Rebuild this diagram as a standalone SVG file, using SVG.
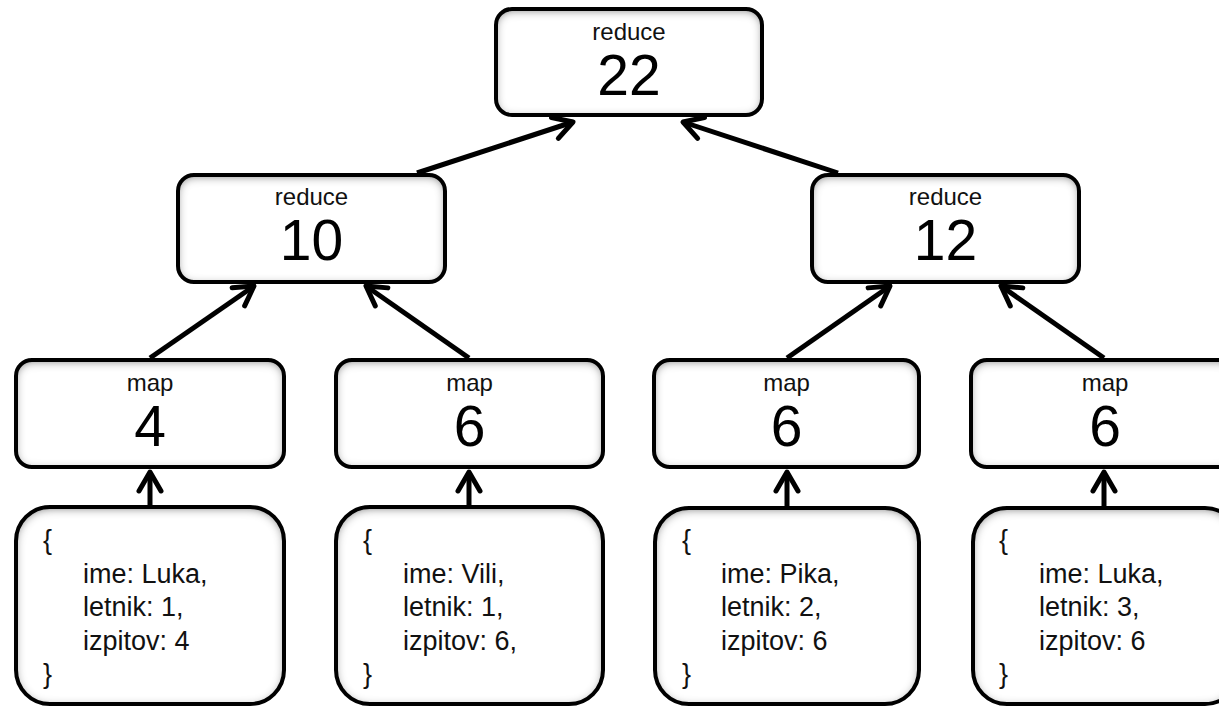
<svg xmlns="http://www.w3.org/2000/svg" width="1219" height="706" viewBox="0 0 1219 706">
<style>
.box{fill:#fff;filter:url(#inset)}
.edge{fill:none;stroke:#000;stroke-width:4}
.lbl{font-family:"Liberation Sans",Arial,sans-serif;font-size:24px;fill:#111;text-anchor:middle}
.num{font-family:"Liberation Sans",Arial,sans-serif;font-size:57px;fill:#000;text-anchor:middle}
.data{font-family:"Liberation Sans",Arial,sans-serif;font-size:27px;fill:#111}
.conn{stroke:#000;stroke-width:5;fill:none;marker-end:url(#ah)}
</style>
<defs>
<filter id="inset" x="-10%" y="-10%" width="120%" height="120%">
<feFlood flood-color="#555" result="c"/>
<feComposite in="c" in2="SourceAlpha" operator="out" result="o"/>
<feGaussianBlur in="o" stdDeviation="5" result="b"/>
<feOffset in="b" dx="0" dy="2" result="bo"/>
<feComposite in="bo" in2="SourceAlpha" operator="in" result="s"/>
<feMerge><feMergeNode in="SourceGraphic"/><feMergeNode in="s"/></feMerge>
</filter>
<marker id="ah" markerUnits="userSpaceOnUse" markerWidth="40" markerHeight="40" viewBox="-25 -20 40 40" refX="0" refY="0" orient="auto" overflow="visible">
<path d="M-19,-11 L0,0 L-19,11" fill="none" stroke="#000" stroke-width="5" stroke-linejoin="round" stroke-linecap="round"/>
</marker>
</defs>
<rect width="1219" height="706" fill="#fff"/>
<g id="connectors">
<line class="conn" x1="417" y1="173" x2="573" y2="122"/>
<line class="conn" x1="838" y1="173" x2="683" y2="122"/>
<line class="conn" x1="150" y1="358" x2="254" y2="286"/>
<line class="conn" x1="469" y1="358" x2="366" y2="286"/>
<line class="conn" x1="787" y1="358" x2="890" y2="286"/>
<line class="conn" x1="1104" y1="358" x2="1001" y2="286"/>
<line class="conn" x1="150" y1="506" x2="150" y2="472"/>
<line class="conn" x1="469" y1="506" x2="469" y2="472"/>
<line class="conn" x1="787" y1="507" x2="787" y2="472"/>
<line class="conn" x1="1104" y1="507" x2="1104" y2="472"/>
</g>
<g id="reduce-top">
<rect class="box" x="496" y="9" width="266" height="106" rx="16"/>
<rect class="edge" x="496" y="9" width="266" height="106" rx="16"/>
<text class="lbl" x="629" y="40">reduce</text>
<text class="num" x="629" y="95">22</text>
</g>
<g id="reduce-left">
<rect class="box" x="178" y="175" width="267" height="107" rx="16"/>
<rect class="edge" x="178" y="175" width="267" height="107" rx="16"/>
<text class="lbl" x="311.5" y="205">reduce</text>
<text class="num" x="311.5" y="260">10</text>
</g>
<g id="reduce-right">
<rect class="box" x="812" y="175" width="267" height="107" rx="16"/>
<rect class="edge" x="812" y="175" width="267" height="107" rx="16"/>
<text class="lbl" x="945.5" y="205">reduce</text>
<text class="num" x="945.5" y="260">12</text>
</g>
<g id="map1">
<rect class="box" x="16" y="360" width="268" height="107" rx="16"/>
<rect class="edge" x="16" y="360" width="268" height="107" rx="16"/>
<text class="lbl" x="150" y="391">map</text>
<text class="num" x="150" y="446">4</text>
</g>
<g id="map2">
<rect class="box" x="336" y="360" width="267" height="107" rx="16"/>
<rect class="edge" x="336" y="360" width="267" height="107" rx="16"/>
<text class="lbl" x="469.5" y="391">map</text>
<text class="num" x="469.5" y="446">6</text>
</g>
<g id="map3">
<rect class="box" x="654" y="360" width="265" height="107" rx="16"/>
<rect class="edge" x="654" y="360" width="265" height="107" rx="16"/>
<text class="lbl" x="786.5" y="391">map</text>
<text class="num" x="786.5" y="446">6</text>
</g>
<g id="map4">
<rect class="box" x="971" y="360" width="268" height="107" rx="16"/>
<rect class="edge" x="971" y="360" width="268" height="107" rx="16"/>
<text class="lbl" x="1105" y="391">map</text>
<text class="num" x="1105" y="446">6</text>
</g>
<g id="data1">
<rect class="box" x="16" y="507" width="268" height="197" rx="34"/>
<rect class="edge" x="16" y="507" width="268" height="197" rx="34"/>
<text class="data" x="43" y="549">{</text>
<text class="data" x="83" y="583">ime: Luka,</text>
<text class="data" x="83" y="616">letnik: 1,</text>
<text class="data" x="83" y="650">izpitov: 4</text>
<text class="data" x="43" y="683">}</text>
</g>
<g id="data2">
<rect class="box" x="336" y="507" width="267" height="197" rx="34"/>
<rect class="edge" x="336" y="507" width="267" height="197" rx="34"/>
<text class="data" x="363" y="549">{</text>
<text class="data" x="403" y="583">ime: Vili,</text>
<text class="data" x="403" y="616">letnik: 1,</text>
<text class="data" x="403" y="650">izpitov: 6,</text>
<text class="data" x="363" y="683">}</text>
</g>
<g id="data3">
<rect class="box" x="655" y="508" width="264" height="196" rx="34"/>
<rect class="edge" x="655" y="508" width="264" height="196" rx="34"/>
<text class="data" x="682" y="549">{</text>
<text class="data" x="721" y="583">ime: Pika,</text>
<text class="data" x="721" y="616">letnik: 2,</text>
<text class="data" x="721" y="650">izpitov: 6</text>
<text class="data" x="682" y="683">}</text>
</g>
<g id="data4">
<rect class="box" x="973" y="508" width="266" height="196" rx="34"/>
<rect class="edge" x="973" y="508" width="266" height="196" rx="34"/>
<text class="data" x="999" y="549">{</text>
<text class="data" x="1039" y="583">ime: Luka,</text>
<text class="data" x="1039" y="616">letnik: 3,</text>
<text class="data" x="1039" y="650">izpitov: 6</text>
<text class="data" x="999" y="683">}</text>
</g>
</svg>
